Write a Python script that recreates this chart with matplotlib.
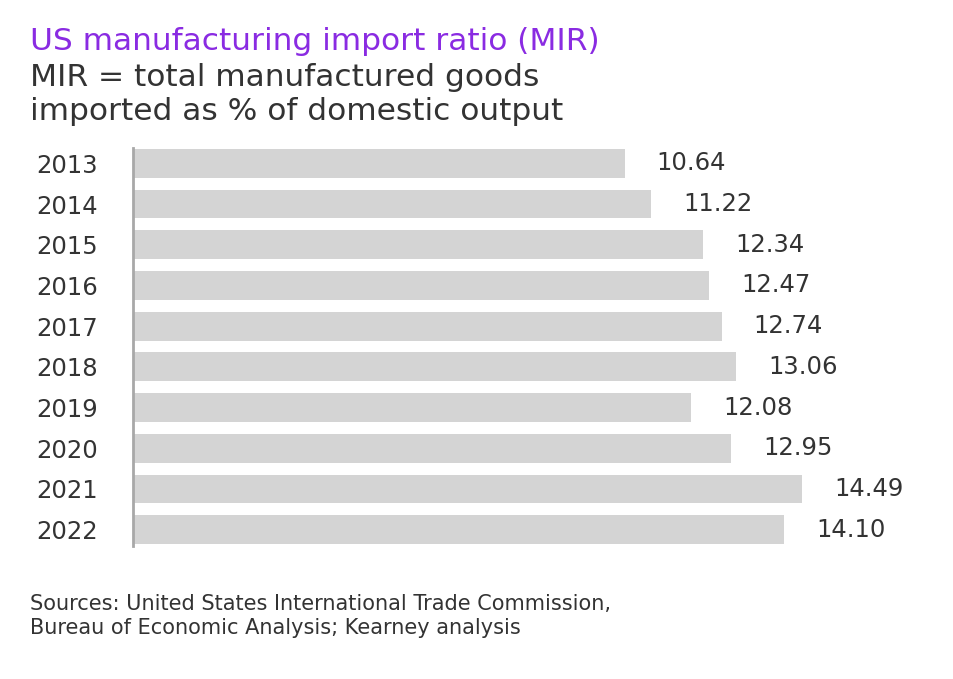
import matplotlib.pyplot as plt

years = ['2013', '2014', '2015', '2016', '2017', '2018', '2019', '2020', '2021', '2022']
mir = [10.64, 11.22, 12.34, 12.47, 12.74, 13.06, 12.08, 12.95, 14.49, 14.10]

plt.rcParams['font.family'] = ['DejaVu Sans']

W, H = 954, 679
fig = plt.figure(figsize=(W / 100, H / 100), dpi=100)
fig.patch.set_facecolor('white')

# axes placed in pixel terms
left, right, top, bottom = 133, 954, 143, 550
ax = fig.add_axes([left / W, 1 - bottom / H, (right - left) / W, (bottom - top) / H])

pos = list(range(len(years)))
ax.barh(pos, mir, height=0.71, color='#d4d4d4', zorder=2)
ax.set_xlim(0, (right - left) / 46.2)
ax.set_ylim(len(years) - 0.5, -0.5)

for p, v in zip(pos, mir):
    ax.annotate(f'{v:.2f}', xy=(v, p), xytext=(32, 0), textcoords='offset pixels',
                va='center', ha='left', fontsize=17.5, color='#333333')

ax.set_yticks(pos)
ax.set_yticklabels(years, fontsize=17.5, color='#333333')
ax.tick_params(axis='y', length=0, pad=25)
ax.set_xticks([])
for s in ['top', 'right', 'bottom']:
    ax.spines[s].set_visible(False)
ax.spines['left'].set_color('#a8a8a8')
ax.spines['left'].set_linewidth(2)
ax.spines['left'].set_bounds(len(years) - 0.6, -0.38)

fig.text(30 / W, 1 - 42 / H, 'US manufacturing import ratio (MIR)', fontsize=22.5,
         color='#8a2be2', va='center', ha='left')
fig.text(30 / W, 1 - 77 / H, 'MIR = total manufactured goods', fontsize=22.5,
         color='#333333', va='center', ha='left')
fig.text(30 / W, 1 - 111 / H, 'imported as % of domestic output', fontsize=22.5,
         color='#333333', va='center', ha='left')

fig.text(30 / W, 1 - 604 / H, 'Sources: United States International Trade Commission,',
         fontsize=15, color='#333333', va='center', ha='left')
fig.text(30 / W, 1 - 628 / H, 'Bureau of Economic Analysis; Kearney analysis',
         fontsize=15, color='#333333', va='center', ha='left')

fig.savefig('out.png', dpi=100)
